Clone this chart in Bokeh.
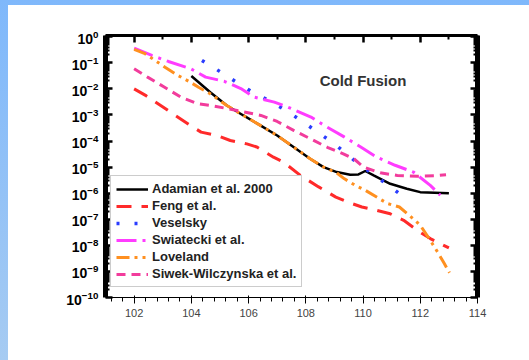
import numpy as np
from bokeh.plotting import figure
from bokeh.models import (FixedTicker, LogAxis, LinearAxis, Range1d, Legend,
                          LegendItem, Label, CustomJSTickFormatter)
from bokeh.embed import file_html
from bokeh.resources import INLINE

# ---- data (Z_CN, log10 P_CN) ----
z_adamian = [104.0, 104.66, 105.24, 105.82, 106.41, 107.0, 107.57, 108.15, 108.62,
             109.08, 109.55, 109.84, 110.08, 110.37, 110.95, 111.53, 112.0, 113.0]
lp_adamian = [-1.51, -2.13, -2.64, -3.02, -3.40, -3.79, -4.23, -4.68, -5.0,
              -5.19, -5.29, -5.28, -5.15, -5.32, -5.64, -5.83, -5.96, -6.0]

z_feng = [102.0, 102.4, 103.35, 103.93, 104.34, 104.89, 105.36, 105.94, 106.29, 106.87,
          107.22, 107.81, 108.45, 109.05, 109.46, 109.96, 110.37, 110.95, 111.42,
          111.94, 112.35, 113.0]
lp_feng = [-2.0, -2.25, -2.95, -3.38, -3.66, -3.79, -3.98, -4.11, -4.23, -4.62,
           -4.81, -5.32, -5.76, -6.15, -6.34, -6.53, -6.63, -6.79, -7.04,
           -7.46, -7.74, -8.1]

z_veselsky = [104.37, 104.99, 105.57, 106.1, 106.7, 107.25, 107.83, 108.41, 108.99,
              109.67, 110.31, 110.89, 111.5]
lp_veselsky = [-0.91, -1.33, -1.74, -2.1, -2.44, -2.79, -3.21, -3.66, -4.1,
               -4.72, -5.25, -5.7, -6.21]

z_swiatecki = [102.0, 102.62, 103.2, 103.98, 104.5, 105.15, 105.73, 106.2, 106.9, 107.37,
               108.18, 108.64, 109.34, 109.92, 110.48, 111.12, 111.76, 112.35, 112.7]
lp_swiatecki = [-0.44, -0.72, -0.95, -1.23, -1.55, -1.71, -1.99, -2.32, -2.51, -2.7,
                -3.08, -3.4, -3.84, -4.23, -4.62, -4.93, -5.19, -5.7, -6.08]

z_loveland = [102.0, 102.38, 103.08, 103.49, 103.96, 104.25, 104.66, 105.24, 105.82,
              106.41, 107.0, 107.57, 108.15, 108.62, 109.08, 109.35, 109.73, 110.08,
              110.86, 111.27, 111.62, 112.0, 112.35, 112.64, 112.84, 113.02]
lp_loveland = [-0.49, -0.65, -1.17, -1.46, -1.74, -1.94, -2.19, -2.64, -3.02,
               -3.40, -3.79, -4.23, -4.68, -5.0, -5.22, -5.45, -5.7, -5.89,
               -6.4, -6.53, -6.85, -7.23, -7.81, -8.32, -8.7, -9.05]

z_siwek = [102.0, 102.47, 103.05, 103.64, 104.22, 104.69, 105.27, 105.85, 106.43, 107.0,
           107.59, 108.17, 108.75, 109.33, 109.69, 110.02, 110.6, 111.2, 111.9, 112.5, 112.9]
lp_siwek = [-1.23, -1.55, -1.93, -2.32, -2.57, -2.64, -2.76, -2.89, -3.02, -3.25,
            -3.6, -3.92, -4.24, -4.5, -4.69, -5.0, -5.22, -5.32, -5.35, -5.33, -5.29]

x_ticks = [102, 104, 106, 108, 110, 112, 114]
x_minor = [101, 103, 105, 107, 109, 111, 113]
y_exps = list(range(-10, 1))


def pw(lp):
    return [10.0 ** v for v in lp]


FONT = "Liberation Sans"

page_bg = ("linear-gradient(#ffffff, #ffffff) 8px 5px / calc(100% - 8px) calc(100% - 5px) no-repeat, "
           "linear-gradient(#7fb8fb, #a6cbf2)")

p = figure(width=529, height=360, y_axis_type="log",
           x_range=Range1d(101, 114), y_range=Range1d(1e-10, 1.11),
           output_backend="svg", toolbar_location=None,
           min_border_left=105, min_border_right=52, min_border_top=35,
           min_border_bottom=63, margin=0, styles={"background": page_bg})
p.xgrid.visible = False
p.ygrid.visible = False
p.outline_line_color = None
p.background_fill_color = "white"
p.border_fill_alpha = 0

yticks = [10.0 ** e for e in y_exps]
yminor = [k * 10.0 ** e for e in y_exps[:-1] for k in range(2, 10)]
yt = FixedTicker(ticks=yticks, minor_ticks=yminor)
xt = FixedTicker(ticks=x_ticks, minor_ticks=x_minor)

blank = CustomJSTickFormatter(code="return ''")
right = LogAxis(ticker=yt, formatter=blank)
top = LinearAxis(ticker=xt, formatter=blank)
p.add_layout(right, "right")
p.add_layout(top, "above")

p.yaxis[0].ticker = yt
p.xaxis[0].ticker = xt

for ax, lw in [(p.yaxis[0], 5), (right, 5), (p.xaxis[0], 3), (top, 3)]:
    ax.axis_line_width = lw
    ax.axis_line_color = "black"
    ax.major_tick_in = 7
    ax.major_tick_out = 0
    ax.minor_tick_in = 4
    ax.minor_tick_out = 0
    ax.major_tick_line_width = 2.5
    ax.minor_tick_line_width = 2
    ax.major_tick_line_color = "black"
    ax.minor_tick_line_color = "black"

p.yaxis[0].major_label_text_font = FONT
p.yaxis[0].major_label_text_font_style = "bold"
p.yaxis[0].major_label_text_font_size = "14px"
p.yaxis[0].major_label_text_color = "black"
p.yaxis[0].major_label_standoff = 7

p.xaxis[0].major_label_text_font = FONT
p.xaxis[0].major_label_text_font_size = "11.5px"
p.xaxis[0].major_label_text_color = "#606060"
p.xaxis[0].major_label_standoff = 7

r_ad = p.line(z_adamian, pw(lp_adamian), line_color="black", line_width=2.5)
r_fe = p.line(z_feng, pw(lp_feng), line_color="#ff2a2a", line_width=3,
              line_dash="15 10")
r_ve = p.line(z_veselsky, pw(lp_veselsky), line_color="#2a3cff", line_width=3.5,
              line_dash="3 15")
r_sw = p.line(z_swiatecki, pw(lp_swiatecki), line_color="#ff3cff", line_width=3,
              line_dash="20 6 3 6")
r_lo = p.line(z_loveland, pw(lp_loveland), line_color="#ff9020", line_width=3,
              line_dash="13 5 3 5 3 5")
r_si = p.line(z_siwek, pw(lp_siwek), line_color="#f23c9c", line_width=3,
              line_dash="9 6")

legend = Legend(items=[
    LegendItem(label="Adamian et al. 2000", renderers=[r_ad]),
    LegendItem(label="Feng et al.", renderers=[r_fe]),
    LegendItem(label="Veselsky", renderers=[r_ve]),
    LegendItem(label="Swiatecki et al.", renderers=[r_sw]),
    LegendItem(label="Loveland", renderers=[r_lo]),
    LegendItem(label="Siwek-Wilczynska et al.", renderers=[r_si]),
], location=(5, 10))
legend.label_text_font = FONT
legend.label_text_font_style = "bold"
legend.label_text_font_size = "13px"
legend.label_text_color = "#222222"
legend.glyph_width = 32
legend.glyph_height = 14
legend.label_height = 14
legend.label_standoff = 4
legend.spacing = 2
legend.padding = 5
legend.margin = 0
legend.border_line_color = "#999999"
legend.border_line_width = 1.5
legend.background_fill_color = "white"
legend.background_fill_alpha = 1
p.add_layout(legend, "center")

p.add_layout(Label(x=110.0, y=10 ** -1.68, text="Cold Fusion", text_font=FONT,
                   text_font_style="bold", text_font_size="15px", text_color="#333333",
                   text_align="center", text_baseline="middle"))

# axis titles with subscripts
p.add_layout(Label(x=-68, y=115, x_units="screen", y_units="screen", text="P",
                   angle=np.pi / 2, text_font=FONT, text_font_style="bold",
                   text_font_size="18px", text_color="#222222",
                   text_align="left", text_baseline="middle"))
p.add_layout(Label(x=-63, y=128, x_units="screen", y_units="screen", text="CN",
                   angle=np.pi / 2, text_font=FONT, text_font_style="bold",
                   text_font_size="14px", text_color="#222222",
                   text_align="left", text_baseline="middle"))
p.add_layout(Label(x=165, y=-41, x_units="screen", y_units="screen", text="z",
                   text_font=FONT, text_font_style="bold", text_font_size="18px",
                   text_color="#222222", text_align="left", text_baseline="alphabetic"))
p.add_layout(Label(x=177, y=-46, x_units="screen", y_units="screen", text="CN",
                   text_font=FONT, text_font_style="bold", text_font_size="14px",
                   text_color="#222222", text_align="left", text_baseline="alphabetic"))

open("out.html", "w").write(file_html(p, INLINE))
